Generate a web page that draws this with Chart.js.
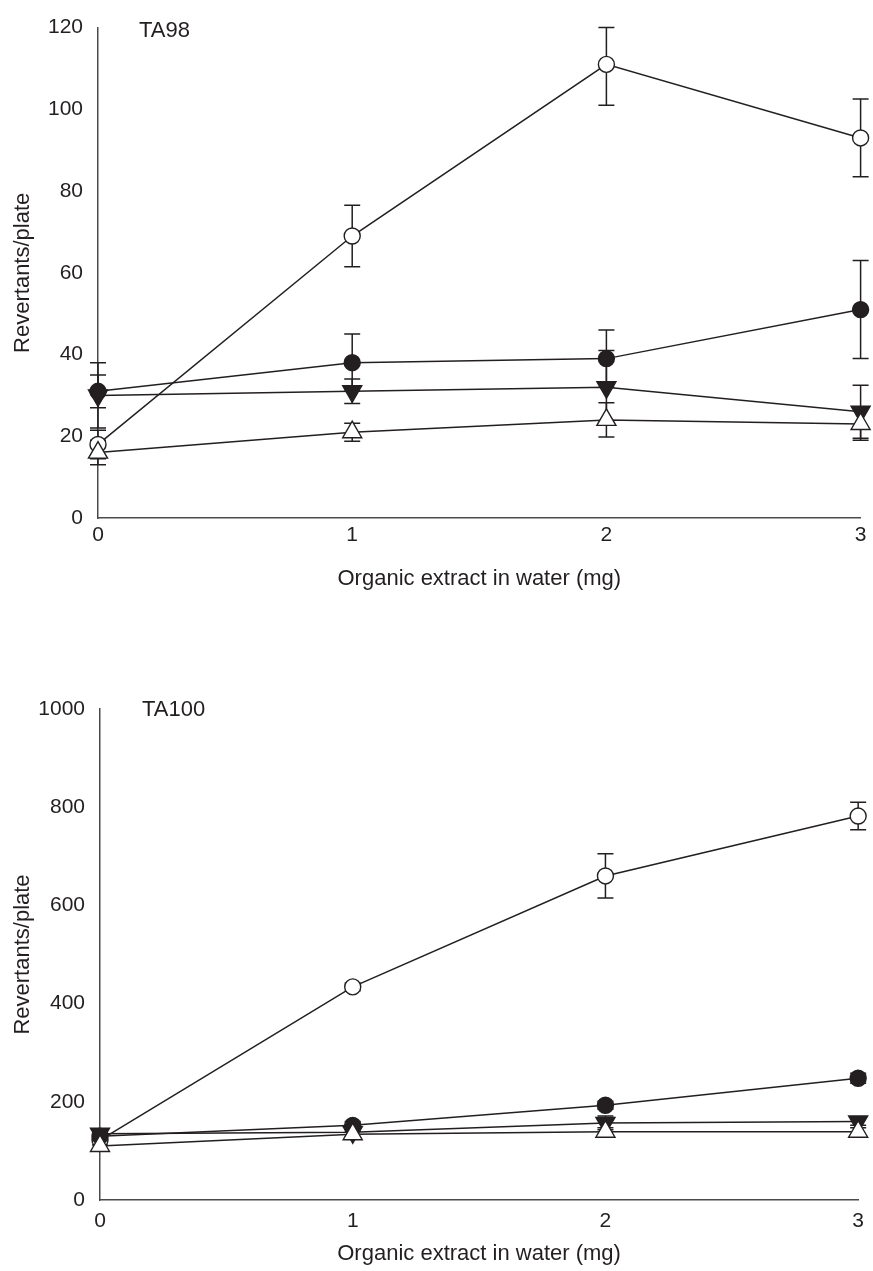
<!DOCTYPE html>
<html>
<head>
<meta charset="utf-8">
<script src="https://cdn.jsdelivr.net/npm/chart.js@4.4.1/dist/chart.umd.min.js"></script>
<style>
  html, body { margin: 0; padding: 0; background: #fff; }
  #page { position: relative; width: 873px; height: 1271px; }
  .panel { position: absolute; left: 0; }
  #panel98 { top: 0; }
  #panel100 { top: 620px; }
</style>
</head>
<body>
<div id="page">
  <div class="panel" id="panel98"><canvas id="chart98" width="873" height="620"></canvas></div>
  <div class="panel" id="panel100"><canvas id="chart100" width="873" height="651"></canvas></div>
</div>
<script>
// doses (mg of organic extract)
const doses = [0, 1, 2, 3];

// TA98 means / errors
const ta98OpenCircle = [18, 69, 111, 93];
const ta98OpenCircleErr = [3.5, 7.5, 10, 9.5];
const ta98FilledCircle = [31, 38, 39, 51];
const ta98FilledCircleErr = [4, 7, 7, 12];
const ta98DownTriangle = [30, 31, 32, 26];
const ta98DownTriangleErr = [8, 3, 9, 6.5];
const ta98OpenTriangle = [16, 21, 24, 23];
const ta98OpenTriangleErr = [3, 2.2, 4.2, 4];

// TA100 means / errors
const ta100OpenCircle = [122, 434, 660, 782];
const ta100OpenCircleErr = [10, 8, 45, 28];
const ta100FilledCircle = [130, 152, 193, 248];
const ta100FilledCircleErr = [8, 8, 8, 10];
const ta100DownTriangle = [135, 138, 157, 160];
const ta100DownTriangleErr = [8, 10, 14, 8];
const ta100OpenTriangle = [110, 134, 139, 139];
const ta100OpenTriangleErr = [8, 6, 8, 8];

const INK = '#231f20';
const FONT = "'Liberation Sans', Arial, Helvetica, sans-serif";

function toPoints(values) {
  return doses.map((d, i) => ({ x: d, y: values[i] }));
}

// vertical error bars with caps, drawn under the lines
const errorBars = {
  id: 'errorBars',
  beforeDatasetsDraw(chart) {
    const { ctx, scales: { x, y } } = chart;
    ctx.save();
    ctx.strokeStyle = INK;
    ctx.lineWidth = 1.5;
    chart.data.datasets.forEach(ds => {
      ds.data.forEach((p, i) => {
        const e = ds.errors[i];
        const px = x.getPixelForValue(p.x);
        const top = y.getPixelForValue(Math.min(p.y + e, y.max));
        const bot = y.getPixelForValue(Math.max(p.y - e, y.min));
        ctx.beginPath();
        ctx.moveTo(px, top);
        ctx.lineTo(px, bot);
        ctx.moveTo(px - 8, top);
        ctx.lineTo(px + 8, top);
        ctx.moveTo(px - 8, bot);
        ctx.lineTo(px + 8, bot);
        ctx.stroke();
      });
    });
    ctx.restore();
  }
};

// strain label in the upper left of the plot
const strainLabel = {
  id: 'strainLabel',
  afterDraw(chart, args, opts) {
    const { ctx, chartArea } = chart;
    ctx.save();
    ctx.fillStyle = INK;
    ctx.font = '22px ' + FONT;
    ctx.textBaseline = 'middle';
    ctx.fillText(opts.text, chartArea.left + opts.dx, chartArea.top + opts.dy);
    ctx.restore();
  }
};

function series(values, errors, style, rotation, radius, fill) {
  return {
    data: toPoints(values),
    errors: errors,
    borderColor: INK,
    borderWidth: 1.5,
    pointStyle: style,
    rotation: rotation,
    pointRadius: radius,
    pointBackgroundColor: fill,
    pointBorderColor: INK,
    pointBorderWidth: 1.4,
    tension: 0,
    clip: false
  };
}

function makeChart(canvasId, sets, yMax, yStep, layout, label) {
  return new Chart(document.getElementById(canvasId), {
    type: 'line',
    data: { datasets: sets },
    options: {
      responsive: false,
      animation: false,
      layout: { padding: { top: layout.top, right: layout.right, left: 0, bottom: 0 } },
      scales: {
        x: {
          type: 'linear',
          min: 0,
          max: 3,
          grid: { display: false, drawTicks: false, tickLength: 0 },
          border: { display: true, color: '#4a4a4a', width: 1.5 },
          ticks: {
            stepSize: 1,
            padding: layout.xTickPad,
            color: INK,
            font: { family: FONT, size: 21 },
            callback: v => String(v)
          },
          title: {
            display: true,
            text: 'Organic extract in water (mg)',
            color: INK,
            font: { family: FONT, size: 22 },
            padding: { top: 0, bottom: layout.xTitlePad }
          },
          afterFit: s => { s.height = layout.xHeight; }
        },
        y: {
          min: 0,
          max: yMax,
          grid: { display: false, drawTicks: false, tickLength: 0 },
          border: { display: true, color: '#4a4a4a', width: 1.5 },
          ticks: {
            stepSize: yStep,
            padding: 15,
            color: INK,
            font: { family: FONT, size: 21 },
            callback: v => String(v)
          },
          title: {
            display: true,
            text: 'Revertants/plate',
            color: INK,
            font: { family: FONT, size: 22 },
            padding: { top: 10, bottom: 0 }
          },
          afterFit: s => { s.width = layout.yWidth; }
        }
      },
      plugins: {
        legend: { display: false },
        tooltip: { enabled: false },
        strainLabel: label
      }
    },
    plugins: [errorBars, strainLabel]
  });
}

makeChart('chart98', [
  series(ta98OpenTriangle, ta98OpenTriangleErr, 'triangle', 0, 11, '#fff'),
  series(ta98FilledCircle, ta98FilledCircleErr, 'circle', 0, 8, INK),
  series(ta98DownTriangle, ta98DownTriangleErr, 'triangle', 180, 11, INK),
  series(ta98OpenCircle, ta98OpenCircleErr, 'circle', 0, 8, '#fff')
], 120, 20,
  { top: 25, right: 11, yWidth: 98, xHeight: 102, xTickPad: 5, xTitlePad: 28 },
  { text: 'TA98', dx: 41, dy: 3 });

makeChart('chart100', [
  series(ta100OpenTriangle, ta100OpenTriangleErr, 'triangle', 0, 11, '#fff'),
  series(ta100FilledCircle, ta100FilledCircleErr, 'circle', 0, 8, INK),
  series(ta100DownTriangle, ta100DownTriangleErr, 'triangle', 180, 11, INK),
  series(ta100OpenCircle, ta100OpenCircleErr, 'circle', 0, 8, '#fff')
], 1000, 200,
  { top: 89, right: 12, yWidth: 100, xHeight: 71, xTickPad: 9, xTitlePad: 4 },
  { text: 'TA100', dx: 42, dy: 1 });
</script>
</body>
</html>
